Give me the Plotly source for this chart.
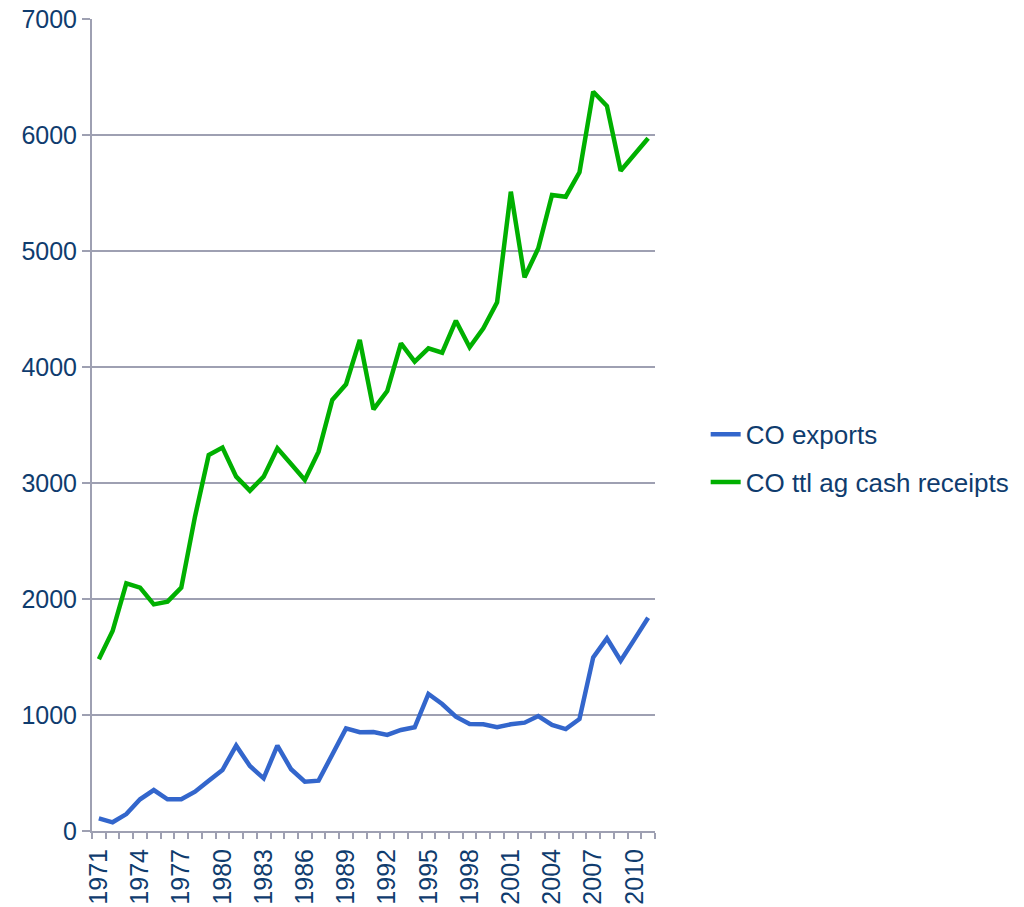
import plotly.graph_objects as go

years = list(range(1971, 2012))
co_exports = [109, 75, 146, 273, 353, 273, 273, 339, 434, 526,
              736, 560, 454, 736, 532, 425, 434, 670, 885, 851,
              853, 828, 871, 894, 1181, 1095, 986, 922, 920, 894,
              920, 934, 991, 914, 879, 966, 1497, 1661, 1468, 1652,
              1839]
co_receipts = [1480, 1724, 2135, 2098, 1954, 1977, 2098, 2710, 3241, 3305,
               3055, 2934, 3055, 3299, 3164, 3026, 3270, 3716, 3851, 4233,
               3635, 3793, 4204, 4046, 4161, 4123, 4399, 4170, 4333, 4557,
               5511, 4773, 5023, 5483, 5468, 5678, 6373, 6250, 5692, 5836,
               5972]
tick_years = list(range(1971, 2012, 3))
y_ticks = [0, 1000, 2000, 3000, 4000, 5000, 6000, 7000]

text_color = "#0F3C6E"
grid_color = "#9EA0B2"
font_family = "Liberation Sans, Arial, sans-serif"

fig = go.Figure()
fig.add_trace(go.Scatter(x=years, y=co_exports, mode="lines", name="CO exports",
                         legendgroup="a",
                         line=dict(color="#3366CC", width=4.5)))
fig.add_trace(go.Scatter(x=years, y=co_receipts, mode="lines", name="CO ttl ag cash receipts",
                         legendgroup="b",
                         line=dict(color="#00B000", width=4.5)))

fig.update_layout(
    width=1016, height=899,
    margin=dict(l=84, r=369, t=11, b=76, autoexpand=False),
    paper_bgcolor="white", plot_bgcolor="white",
    font=dict(family=font_family, size=25, color=text_color),
    showlegend=True,
    legend=dict(x=1.09, y=0.459, xanchor="left", yanchor="middle",
                font=dict(size=26, color=text_color),
                bgcolor="rgba(0,0,0,0)", tracegroupgap=11),
)
fig.update_xaxes(
    range=[1970.5, 2011.5], automargin=False,
    tickmode="array", tickvals=tick_years, ticktext=[str(y) for y in tick_years],
    tickangle=-90, ticks="outside", ticklen=6, tickcolor="rgba(0,0,0,0)",
    showgrid=False, zeroline=False, ticklabeloverflow="allow",
    showline=True, linecolor=grid_color, linewidth=2,
    minor=dict(ticks="outside", ticklen=6, tickcolor=grid_color, tickwidth=2,
               tickmode="linear", tick0=1970.5, dtick=1, showgrid=False),
    tickfont=dict(size=25, color=text_color),
)
fig.update_yaxes(
    range=[0, 7000], tickmode="array", tickvals=y_ticks, automargin=False,
    ticks="outside", ticklen=8, tickcolor=grid_color, tickwidth=2,
    showgrid=True, gridcolor=grid_color, gridwidth=2, ticklabeloverflow="allow",
    zeroline=False, showline=True, linecolor=grid_color, linewidth=2,
    tickfont=dict(size=25, color=text_color),
)

fig.write_html("out.html")
